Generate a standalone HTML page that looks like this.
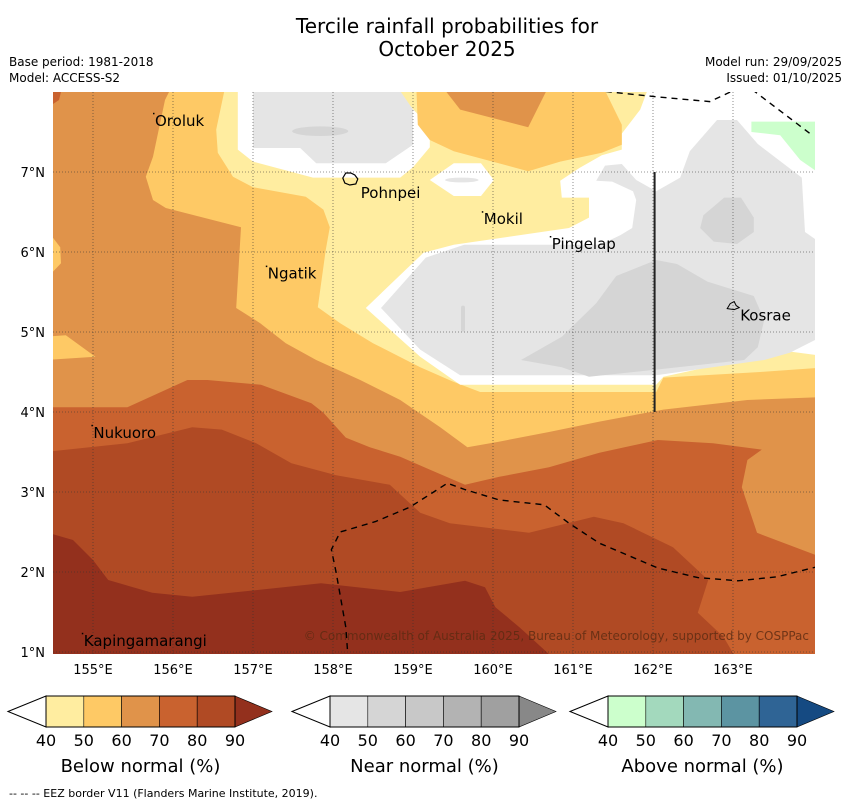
<!DOCTYPE html>
<html><head><meta charset="utf-8">
<style>
html,body{margin:0;padding:0;background:#fff;}
svg{display:block;font-family:"DejaVu Sans","Liberation Sans",sans-serif;}
</style></head>
<body>
<svg id="chart" width="850" height="804" viewBox="0 0 850 804" xmlns="http://www.w3.org/2000/svg">
<defs><clipPath id="mapclip"><rect x="53" y="92" width="762" height="562"/></clipPath></defs>
<text x="447" y="33" font-size="20" text-anchor="middle">Tercile rainfall probabilities for</text>
<text x="447" y="56" font-size="20" text-anchor="middle">October 2025</text>
<text x="9" y="66" font-size="12">Base period: 1981-2018</text>
<text x="9" y="82" font-size="12">Model: ACCESS-S2</text>
<text x="842" y="66" font-size="12" text-anchor="end">Model run: 29/09/2025</text>
<text x="842" y="82" font-size="12" text-anchor="end">Issued: 01/10/2025</text>
<g id="map" clip-path="url(#mapclip)"></g>
<g id="overlay"></g>
<g id="axes"></g>
<g id="cbars"></g>
<text x="9" y="797" font-size="11">--  --  -- EEZ border V11 (Flanders Marine Institute, 2019).</text>
</svg>
<script>
const lonTicks=[155,156,157,158,159,160,161,162,163];
const latTicks=[1,2,3,4,5,6,7];
const cbLevels=[40,50,60,70,80,90];
const belowColors=["#ffeda0","#fec965","#e0934a","#c9622f","#b04a24"];
const nearColors=["#e5e5e5","#d5d5d5","#c8c8c8","#b3b3b3","#a0a0a0"];
const aboveColors=["#ccffcc","#a3d9bd","#83b8b2","#5c94a2","#2f6495"];
const cbTitles=["Below normal (%)","Near normal (%)","Above normal (%)"];
const extColors=["#93301d","#888888","#154a82"];

const bg6070=[[154.3,8.1],[164.2,8.1],[164.2,0.8],[154.3,0.8]];
const yel5060=[[156.0,8.1],[155.9,7.9],[155.75,7.19],[155.66,6.94],[155.75,6.65],[155.91,6.55],[156.38,6.43],[156.85,6.31],[156.79,5.3],[157.09,5.11],[157.41,4.86],[157.79,4.65],[158.34,4.4],[158.84,4.15],[159.34,3.81],[159.68,3.56],[160.08,3.63],[160.7,3.75],[161.33,3.88],[162.13,4.03],[163.18,4.15],[164.2,4.19],[164.2,8.1]];
const yelLeftA=[[154.4,6.31],[154.59,6.06],[154.6,5.86],[154.4,5.65]];
const yelLeftB=[[154.4,4.94],[154.66,4.96],[155.03,4.69],[154.4,4.65]];
const pale4050=[[156.66,8.1],[156.54,7.53],[156.56,7.24],[156.75,6.94],[157.0,6.81],[157.66,6.69],[157.88,6.53],[157.96,6.31],[157.91,6.03],[157.81,5.31],[158.09,5.11],[158.5,4.86],[159.09,4.56],[159.5,4.38],[159.84,4.25],[162.04,4.25],[162.13,4.43],[163.34,4.5],[164.2,4.56],[164.2,8.1]];
const yelTop=[[159.04,8.1],[159.06,7.59],[159.21,7.4],[159.51,7.26],[160.44,7.01],[160.84,7.13],[161.36,7.24],[161.61,7.34],[161.61,7.59],[161.36,8.1]];
const orgTop=[[159.34,8.1],[159.59,7.78],[160.44,7.56],[160.71,8.1]];
const white1=[[156.81,8.1],[156.81,7.28],[157.0,7.13],[157.75,6.93],[158.84,6.93],[159.0,7.06],[159.21,7.31],[159.21,7.56],[158.71,8.1]];
const grey1=[[157.0,8.1],[157.0,7.3],[157.59,7.3],[157.79,7.11],[158.66,7.11],[159.0,7.34],[159.0,7.78],[158.78,8.1]];
const white2=[[159.21,6.9],[159.51,7.11],[159.85,7.11],[160.01,6.9],[159.85,6.7],[159.51,6.7]];
const whiteMain=[[160.84,6.89],[161.08,7.05],[161.36,7.21],[161.61,7.28],[161.61,7.48],[161.84,7.78],[161.96,8.1],[164.2,8.1],[164.2,4.69],[163.53,4.78],[163.28,4.69],[162.13,4.44],[162.04,4.34],[159.59,4.34],[159.09,4.69],[158.41,5.3],[159.13,5.99],[159.51,6.09],[160.95,6.3],[161.2,6.43],[161.2,6.68],[160.86,6.68]];
const greyMain=[[158.6,5.3],[159.16,5.93],[159.64,6.09],[161.34,6.09],[161.59,6.21],[161.74,6.3],[161.79,6.65],[161.75,6.76],[161.49,6.88],[161.29,6.89],[161.4,7.08],[161.61,7.1],[161.79,6.9],[162.04,6.76],[162.34,6.93],[162.46,7.26],[162.8,7.65],[163.05,7.65],[163.31,7.35],[163.86,6.93],[163.9,6.25],[164.2,6.04],[164.2,4.99],[163.71,4.74],[163.39,4.65],[162.04,4.46],[159.59,4.46],[159.09,4.78]];
const darkGrey1=[[160.35,4.65],[160.86,4.94],[161.29,5.36],[161.54,5.7],[162.04,5.9],[162.3,5.85],[162.68,5.63],[163.26,5.45],[163.39,5.15],[163.31,4.81],[163.14,4.65],[162.04,4.53],[161.2,4.44],[160.86,4.56]];
const darkGrey2=[[162.63,6.46],[162.89,6.68],[163.1,6.68],[163.26,6.43],[163.26,6.25],[163.05,6.1],[162.76,6.13],[162.59,6.3]];
const green4050=[[163.23,7.63],[164.2,7.63],[164.2,6.9],[163.84,7.15],[163.59,7.46],[163.23,7.5]];
const red7080=[[154.3,4.06],[155.43,4.06],[156.18,4.4],[156.43,4.4],[157.1,4.34],[157.73,4.11],[157.88,3.99],[158.16,3.68],[158.46,3.56],[158.84,3.44],[159.21,3.28],[159.65,3.09],[160.08,3.19],[160.7,3.31],[161.33,3.49],[162.06,3.65],[162.75,3.61],[163.36,3.53],[163.18,3.4],[163.11,3.06],[163.3,2.49],[164.2,2.15],[164.2,0.8],[154.3,0.8]];
const red8090=[[154.3,3.49],[155.43,3.61],[156.24,3.81],[156.61,3.78],[157.04,3.61],[157.48,3.36],[158.04,3.21],[158.71,3.09],[159.09,2.74],[159.46,2.61],[160.45,2.49],[161.26,2.69],[161.63,2.61],[162.25,2.31],[162.69,1.9],[162.56,1.49],[162.88,1.19],[163.11,0.8],[154.3,0.8]];
const red90=[[154.3,2.53],[154.75,2.4],[155.0,2.15],[155.19,1.9],[155.74,1.74],[156.24,1.69],[157.1,1.78],[157.85,1.86],[158.84,1.75],[159.65,1.89],[159.9,1.81],[160.03,1.56],[160.33,1.31],[160.89,0.8],[154.3,0.8]];
const eez1=[[161.0,8.05],[162.04,7.94],[162.71,7.88],[163.03,8.03]];
const eez2=[[163.24,8.03],[163.99,7.46]];
const eez3=[[158.19,0.9],[158.16,1.31],[158.04,1.99],[157.98,2.28],[158.09,2.5],[158.53,2.63],[158.96,2.81],[159.43,3.11],[159.65,3.03],[160.08,2.9],[160.64,2.84],[160.95,2.61],[161.33,2.36],[162.06,2.05],[162.56,1.93],[163.06,1.89],[163.55,1.94],[164.03,2.06],[164.2,2.12]];
const placeNames=["Oroluk","Pohnpei","Mokil","Pingelap","Ngatik","Kosrae","Nukuoro","Kapingamarangi"];
const placeLon=[155.75,158.21,159.86,160.71,157.16,162.99,154.98,154.86];
const placeLat=[7.74,6.9,6.51,6.2,5.83,5.33,3.84,1.24];

const NS="http://www.w3.org/2000/svg";
function X(lon){return 53+(lon-154.5)*80;}
function Y(lat){return 92+(8-lat)*80;}
function mk(tag,attrs,parent){const e=document.createElementNS(NS,tag);for(const k in attrs)e.setAttribute(k,attrs[k]);parent.appendChild(e);return e;}
function pathOf(pts,close){return pts.map((p,i)=>(i?"L":"M")+X(p[0]).toFixed(1)+","+Y(p[1]).toFixed(1)).join("")+(close?"Z":"");}
const map=document.getElementById("map");
function poly(pts,fill,name){const e=mk("path",{d:pathOf(pts,true),fill:fill},map);

return e;}
function ell(lon,lat,rx,ry,fill,name){const e=mk("ellipse",{cx:X(lon),cy:Y(lat),rx:rx*80,ry:ry*80,fill:fill},map);

}

poly(bg6070,belowColors[2],"below-60-70-region");
poly(yel5060,belowColors[1],"below-50-60-region");
poly(yelLeftA,belowColors[1],"below-50-60-west-a");
poly(yelLeftB,belowColors[1],"below-50-60-west-b");
poly(pale4050,belowColors[0],"below-40-50-region");
poly(white1,"#ffffff","no-signal-north");
poly(grey1,nearColors[0],"near-40-50-north");
ell(157.84,7.51,0.35,0.06,nearColors[1],"near-50-60-north");
poly(white2,"#ffffff","no-signal-hex");
ell(159.61,6.9,0.21,0.03,nearColors[0],"near-40-50-hex");
poly(whiteMain,"#ffffff","no-signal-main");
poly(greyMain,nearColors[0],"near-40-50-main");
poly(darkGrey1,nearColors[1],"near-50-60-south");
poly(darkGrey2,nearColors[1],"near-50-60-east");
mk("rect",{x:X(159.6),y:Y(5.33),width:4,height:26,rx:2,fill:nearColors[1]},map);
poly(green4050,aboveColors[0],"above-40-50-region");
poly(yelTop,belowColors[1],"below-50-60-top");
poly(orgTop,belowColors[2],"below-60-70-top");
poly(red7080,belowColors[3],"below-70-80-region");
poly(red8090,belowColors[4],"below-80-90-region");
poly(red90,extColors[0],"below-90-region");
mk("path",{d:"M53,92h8l-2,8l-6,4z",fill:belowColors[3]},map);

// grid
lonTicks.forEach(l=>{const e=mk("line",{x1:X(l),x2:X(l),y1:92,y2:654,stroke:"#333","stroke-width":0.8,"stroke-dasharray":"1,2","stroke-opacity":0.7},map);

});
latTicks.forEach(l=>{const e=mk("line",{x1:53,x2:815,y1:Y(l),y2:Y(l),stroke:"#333","stroke-width":0.8,"stroke-dasharray":"1,2","stroke-opacity":0.7},map);

});

// eez
[eez1,eez2,eez3].forEach(p=>{const e=mk("path",{d:pathOf(p,false),fill:"none",stroke:"#000","stroke-width":1.4,"stroke-dasharray":"6,5"},map);

});
const vl=mk("line",{x1:X(162.02),x2:X(162.02),y1:Y(7),y2:Y(4),stroke:"#222","stroke-width":2},map);



const cp=mk("text",{x:809,y:640,"font-size":12,"text-anchor":"end",fill:"#5a2a12","fill-opacity":0.8},map);
cp.textContent="© Commonwealth of Australia 2025, Bureau of Meteorology, supported by COSPPac";



// islands & labels
const ov=document.getElementById("overlay");
const po=mk("path",{d:"M"+(X(158.21)-7)+","+(Y(6.9)-2)+"l3,-5l5,0l4,2l3,4l-2,5l-6,1l-5,-2z",fill:"none",stroke:"#000","stroke-width":1.2},ov);


const ko=mk("path",{d:"M"+(X(162.99)-5)+","+(Y(5.33)+3)+"l3,-5l4,-2l2,4l3,2l-5,2z",fill:"none",stroke:"#000","stroke-width":1},ov);


placeNames.forEach((n,i)=>{
 const isl=(n==="Pohnpei"||n==="Kosrae");
 if(!isl){const d=mk("rect",{x:X(placeLon[i]),y:Y(placeLat[i]),width:1.5,height:1.5,fill:"#000"},ov);
 
 }
 const dx=isl?(n==="Pohnpei"?11:8):2, dy=isl?(n==="Pohnpei"?18:15):13;
 const t=mk("text",{x:X(placeLon[i])+dx,y:Y(placeLat[i])+dy,"font-size":15,fill:"#000"},ov);
 t.textContent=n;
 
 
});

// axes labels
const ax=document.getElementById("axes");
lonTicks.forEach(l=>{const t=mk("text",{x:X(l),y:674,"font-size":13,"text-anchor":"middle"},ax);t.textContent=l+"°E";

});
latTicks.forEach(l=>{const t=mk("text",{x:45,y:Y(l)+5,"font-size":13,"text-anchor":"end"},ax);t.textContent=l+"°N";

});

// colorbars
const cb=document.getElementById("cbars");
const cbStarts=[8,292,570];
const palettes=[belowColors,nearColors,aboveColors];
const boxW=37.8, y0=696, h=31;
palettes.forEach((pal,k)=>{
 const x0=cbStarts[k], bx=x0+38;
 const lt=mk("path",{d:`M${x0},${y0+h/2}L${bx},${y0}L${bx},${y0+h}Z`,fill:"#fff",stroke:"#000","stroke-width":1},cb);
 
 
 pal.forEach((c,i)=>{const r=mk("rect",{x:bx+i*boxW,y:y0,width:boxW,height:h,fill:c,stroke:"#000","stroke-width":0.6},cb);
 
 });
 const ex=bx+pal.length*boxW;
 const rt=mk("path",{d:`M${ex},${y0}L${ex+37},${y0+h/2}L${ex},${y0+h}Z`,fill:extColors[k],stroke:"#000","stroke-width":0.6},cb);
 
 
 mk("rect",{x:bx,y:y0,width:pal.length*boxW,height:h,fill:"none",stroke:"#000","stroke-width":1},cb);
 cbLevels.forEach((v,i)=>{const t=mk("text",{x:bx+i*boxW,y:746,"font-size":16,"text-anchor":"middle"},cb);t.textContent=v;
 
 });
 const tt=mk("text",{x:bx+pal.length*boxW/2,y:772,"font-size":18,"text-anchor":"middle"},cb);tt.textContent=cbTitles[k];
 
 
});
</script>
</body></html>
